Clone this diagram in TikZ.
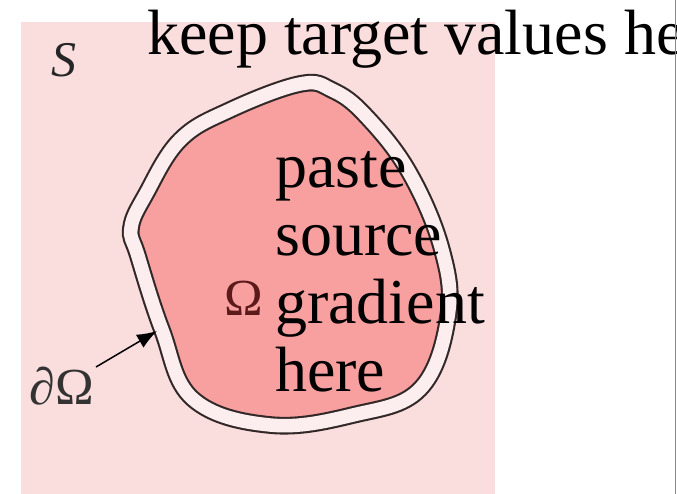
\documentclass[tikz,border=0pt]{standalone}
\usepackage{fontspec}
\setmainfont{Liberation Serif}
\usetikzlibrary{arrows.meta}
\definecolor{bgpink}{HTML}{FADDDD}
\definecolor{gappink}{HTML}{FCEEEE}
\definecolor{innerpink}{HTML}{F8A0A0}
\definecolor{blobline}{HTML}{332828}
\definecolor{omegacol}{HTML}{5C1A1A}
\definecolor{edgegray}{HTML}{8A8A8A}
\tikzset{
  bigtext/.style={font=\fontsize{64}{70}\selectfont, inner sep=0pt, text=black},
  symtext/.style={font=\fontsize{52}{56}\selectfont, inner sep=0pt},
  blob/.style={fill=innerpink, draw=blobline, line width=2.1pt, double=gappink, double distance=13.5pt},
  pointer/.style={draw=black, line width=1.5pt, -{Latex[length=20pt,width=15pt]}},
}
\begin{document}
\begin{tikzpicture}[x=1pt,y=-1pt]
\useasboundingbox (0,0) rectangle (677,494);
\clip (0,0) rectangle (677,494);
\fill[white] (0,0) rectangle (677,494);
\fill[bgpink] (21,22) rectangle (495,494);
\draw[blob] plot[smooth cycle, tension=0.65] coordinates {
  (300,84) (332,90) (365,115) (409,172) (442,250) (448,317) (420,389)
  (353,415) (270,425) (193,399) (162,330) (138,256) (131,228) (146,194)
  (180,140) (230,110)};
\node[symtext, text=black!85, font=\fontsize{50}{54}\selectfont\itshape] (S) at (64,60) {S};
\node[bigtext, anchor=base west] (keep) at (147,55) {keep target values he};
\node[symtext, text=omegacol, anchor=base] (Om) at (244,315) {Ω};
\node[symtext, text=black!80, anchor=base] (dO) at (62,404) {∂Ω};
\node[bigtext, anchor=base west] (l1) at (275,188) {paste};
\node[bigtext, anchor=base west] (l2) at (275,256) {source};
\node[bigtext, anchor=base west] (l3) at (275,323) {gradient};
\node[bigtext, anchor=base west] (l4) at (275,391) {here};
\coordinate (tip) at (157,331);
\coordinate (tail) at (96,367);
\draw[pointer] (tail) -- (tip);
\coordinate (gtop) at (675.5,0);
\coordinate (gbot) at (675.5,494);
\draw[edgegray, line width=1.2pt] (gtop) -- (gbot);
\end{tikzpicture}
\end{document}
